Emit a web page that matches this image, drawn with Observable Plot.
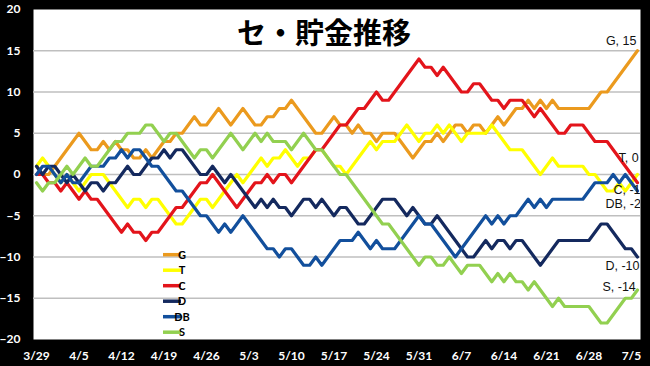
<!DOCTYPE html>
<html><head><meta charset="utf-8">
<script src="https://cdn.jsdelivr.net/npm/d3@7"></script>
<script src="https://cdn.jsdelivr.net/npm/@observablehq/plot@0.6"></script>
<style>html,body{margin:0;padding:0;background:#000;} #chart{width:650px;height:366px;}</style>
</head><body><div id="chart"></div>
<script>
const teams = ["G","T","C","D","DB","S"];
const G = [1,0,0,1,2,3,4,5,4,3, 3,4,3,4,3,3,2,2,3,2, 3,4,4,5,5,6,7,6,6,7, 8,7,6,7,8,7,6,6,7,7, 8,8,9,8,7,6,5,5,6,7, 6,6,5,6,5,5,4,5,5,5, 4,3,2,3,4,4,5,4,5,6, 6,5,6,6,5,6,7,6,7,8, 8,9,8,9,8,9,8,8,8,8, 8,8,9,10,10,11,12,13,14,15];
const T = [1,2,1,0,-1,0,-1,-2,-1,0, 0,0,-1,-2,-3,-4,-3,-3,-4,-3, -3,-4,-5,-6,-6,-5,-4,-3,-3,-4, -3,-2,-1,0,-1,0,1,2,1,2, 2,3,2,1,2,2,3,3,2,1, 1,0,1,2,3,4,3,4,4,4, 5,6,5,4,5,5,6,5,6,5, 4,5,5,5,5,6,5,4,3,3, 3,2,1,0,1,2,1,1,1,1, 1,0,0,-1,-2,-2,-1,-2,-1,0];
const C = [0,0,-1,-1,-2,-1,-2,-3,-2,-3, -3,-4,-5,-6,-7,-6,-7,-7,-8,-7, -7,-6,-5,-4,-4,-3,-2,-1,-1,0, -1,-2,-3,-4,-3,-2,-1,-1,0,-1, 0,0,-1,0,1,2,3,3,4,5, 6,6,7,8,8,9,10,9,9,10, 11,12,13,14,13,13,12,13,12,11, 10,10,11,11,10,9,9,8,9,9, 9,8,7,8,7,6,5,5,6,6, 6,5,4,4,4,3,2,1,0,-1];
const D = [1,0,1,1,0,-1,0,-1,-2,-1, -1,-2,-1,-1,0,1,0,0,1,2, 2,3,2,3,3,2,1,0,0,1, 0,-1,0,-1,-2,-3,-4,-3,-4,-3, -4,-4,-5,-4,-3,-3,-4,-3,-4,-5, -4,-4,-5,-6,-6,-5,-4,-3,-3,-3, -4,-5,-4,-5,-6,-6,-5,-6,-7,-8, -9,-10,-10,-9,-8,-9,-8,-8,-9,-8, -8,-9,-10,-11,-10,-9,-8,-8,-8,-8, -8,-8,-7,-6,-6,-7,-8,-9,-9,-10];
const DB = [0,1,1,0,-1,0,-1,-1,0,1, 1,1,2,2,3,2,3,3,2,1, 1,0,-1,-2,-2,-3,-4,-5,-5,-6, -7,-6,-7,-6,-5,-6,-7,-8,-9,-9, -10,-9,-9,-10,-11,-11,-10,-11,-10,-9, -8,-8,-8,-7,-8,-9,-8,-9,-9,-9, -8,-7,-6,-5,-6,-6,-7,-8,-9,-10, -9,-8,-7,-6,-5,-6,-5,-6,-5,-5, -4,-3,-4,-3,-4,-3,-3,-3,-3,-3, -3,-2,-1,-1,-1,0,-1,0,-1,-2];
const S = [-1,-2,-1,-1,0,1,0,1,2,1, 1,2,3,4,4,5,5,5,6,6, 5,4,5,5,4,3,2,3,3,2, 3,4,5,4,3,4,5,4,5,4, 4,4,3,4,5,4,3,3,2,1, 0,0,-1,-2,-3,-4,-5,-6,-6,-7, -8,-9,-10,-11,-10,-10,-11,-11,-10,-11, -12,-11,-11,-11,-12,-13,-12,-13,-12,-13, -13,-14,-13,-14,-15,-16,-15,-16,-16,-16, -16,-16,-17,-18,-18,-17,-16,-15,-15,-14];
const tickDays = [0,7,14,21,28,35,42,49,56,63,70,77,84,91,98];
const tickLabels = ["3/29","4/5","4/12","4/19","4/26","5/3","5/10","5/17","5/24","5/31","6/7","6/14","6/21","6/28","7/5"];
const yTicks = [-20,-15,-10,-5,0,5,10,15,20];
const gridValues = [-15,-10,-5,0,5,10,15];
const colorList = ["#EB9A1E","#FFFF00","#E3141B","#14295E","#124F9C","#92D050"];
const title = "セ・貯金推移";

const series = {G, T, C, D, DB, S};
const rows = teams.flatMap(t => series[t].map((v, i) => ({team: t, day: i, value: v})));
const lastPoints = teams.map(t => ({team: t, day: series[t].length - 1, value: series[t][series[t].length - 1]}));
const labelStyle = {
  G: {dx: -1, dy: -10, textAnchor: "end"},
  T: {dx: -19, dy: -17, textAnchor: "start"},
  C: {dx: -24, dy: 7.5, textAnchor: "start"},
  DB: {dx: -32, dy: 13, textAnchor: "start"},
  D: {dx: -32, dy: 8.5, textAnchor: "start"},
  S: {dx: -35, dy: -3.5, textAnchor: "start"}
};

const chart = Plot.plot({
  width: 650, height: 366,
  marginLeft: 33, marginRight: 10, marginTop: 9, marginBottom: 27,
  style: {background: "#000", color: "white", fontFamily: "Lato, 'Liberation Sans', sans-serif", fontWeight: "bold", fontSize: "12px"},
  x: {domain: [-0.5, 99.5]},
  y: {domain: [-20, 20]},
  color: {domain: teams, range: colorList},
  marks: [
    Plot.frame({fill: "white", stroke: null}),
    Plot.gridY(gridValues, {stroke: "#bfbfbf", strokeOpacity: 1, strokeWidth: 1.3}),
    Plot.axisX({ticks: tickDays, tickFormat: d => tickLabels[tickDays.indexOf(d)], tickSize: 0, tickPadding: 12, label: null, fontSize: 12}),
    Plot.axisY({ticks: yTicks, tickSize: 0, tickPadding: 13, label: null, fontSize: 12}),
    Plot.lineY(rows, {x: "day", y: "value", z: "team", stroke: "team", strokeWidth: 3.2, strokeLinejoin: "round", strokeLinecap: "round"}),
    ...teams.map(t => Plot.text(lastPoints.filter(d => d.team === t), {
      x: "day", y: "value", text: d => `${d.team}, ${d.value}`,
      fill: "#111", fontSize: 12.5, fontWeight: "normal", fontFamily: "'Liberation Sans', Arial, sans-serif",
      lineAnchor: "middle", clip: true, ...labelStyle[t]
    })),
    Plot.text([title], {text: d => d, frameAnchor: "top", dx: -13, dy: 25, lineAnchor: "middle", fill: "black", fontSize: 29, fontWeight: "bold", fontFamily: "'Noto Sans CJK JP', sans-serif"})
  ]
});

// legend inside plot area
const svg = d3.select(chart);
const lg = svg.append("g").attr("font-family", "Lato, 'Liberation Sans', sans-serif").attr("font-size", 11).attr("font-weight", "bold");
teams.forEach((t, k) => {
  const y = 254.7 + k * 15.5;
  lg.append("line").attr("x1", 163).attr("x2", 181).attr("y1", y).attr("y2", y).attr("stroke", colorList[k]).attr("stroke-width", 3.5);
  lg.append("text").attr("x", 182).attr("y", y).attr("dy", "0.36em").attr("fill", "#000").text(t);
});
document.getElementById("chart").appendChild(chart);
</script>
</body></html>
